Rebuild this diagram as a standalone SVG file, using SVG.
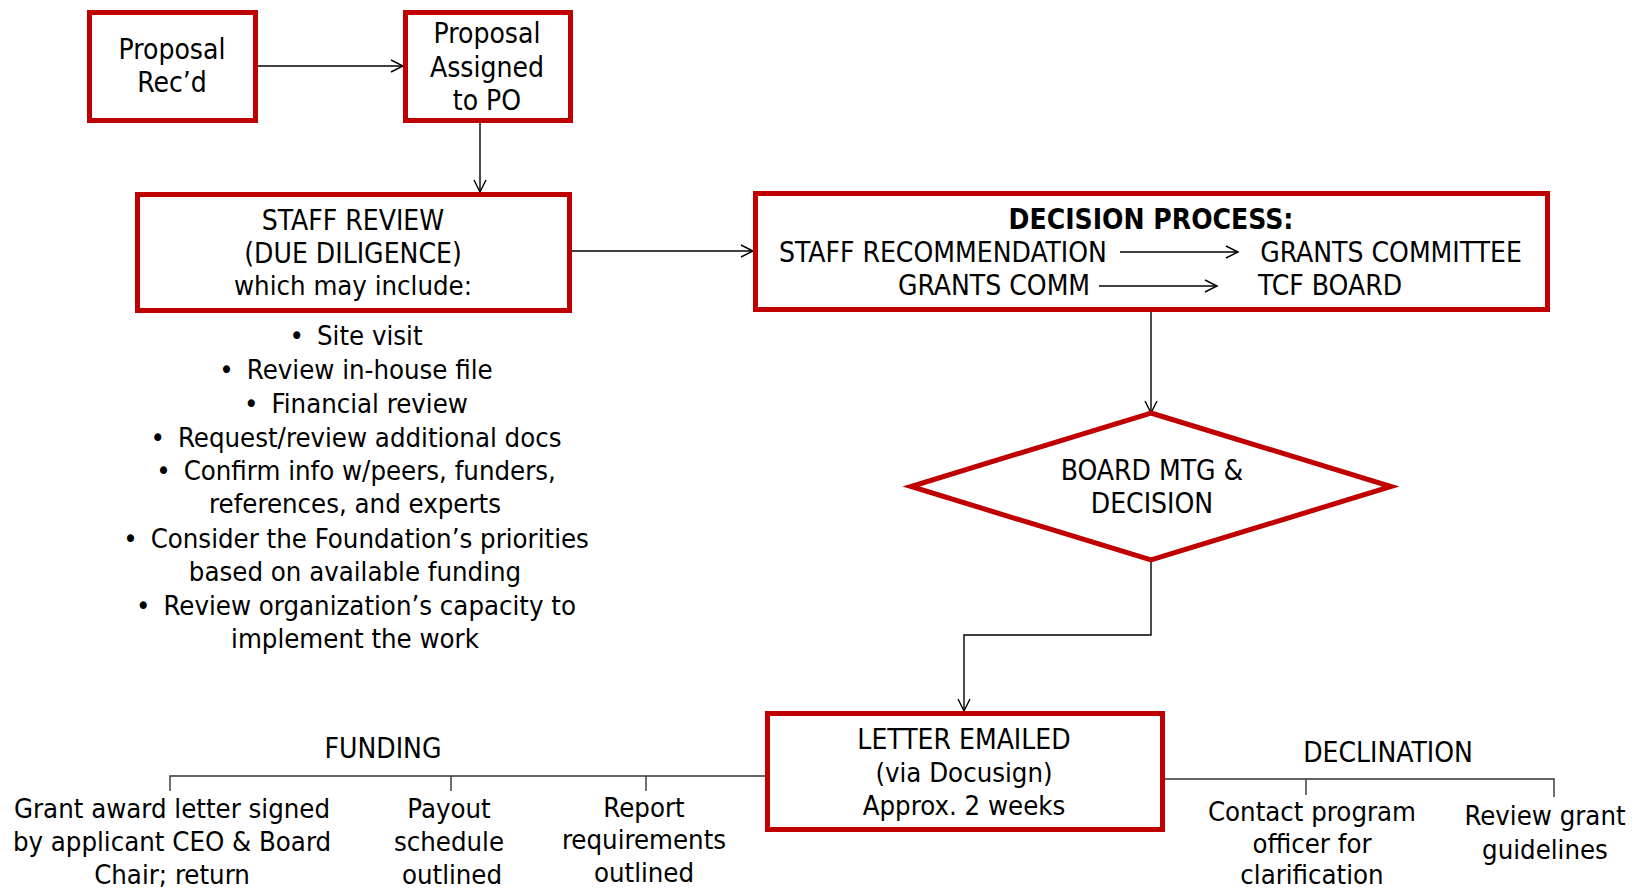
<svg xmlns="http://www.w3.org/2000/svg" width="1636" height="890" viewBox="0 0 1636 890">
<style>
text{font-family:"DejaVu Sans Condensed","DejaVu Sans",sans-serif;font-stretch:condensed;font-size:28px;fill:#000;text-anchor:middle}
.s{font-size:27.3px}
.b{font-weight:bold}
.box{fill:#fff;stroke:#C00000;stroke-width:5}
.c{fill:none;stroke:#000;stroke-width:1.4}
.t{fill:none;stroke:#333;stroke-width:1.4}
</style>
<defs>
<marker id="ah" markerUnits="userSpaceOnUse" markerWidth="16" markerHeight="16" refX="13" refY="7" orient="auto">
<path d="M1,1 L13,7 L1,13" fill="none" stroke="#000" stroke-width="1.4"/>
</marker>
</defs>
<rect width="1636" height="890" fill="#fff"/>
<g id="connectors">
<path class="c" d="M258,66 H403" marker-end="url(#ah)"/>
<path class="c" d="M480,123 V192" marker-end="url(#ah)"/>
<path class="c" d="M572,251 H753" marker-end="url(#ah)"/>
<path class="c" d="M1151,312 V413" marker-end="url(#ah)"/>
<path class="c" d="M1151,560 V635 H964 V711" marker-end="url(#ah)"/>
<path class="t" d="M765,776 H170 V791 M451,776 V791 M646,776 V791"/>
<path class="t" d="M1165,779 H1554 V797 M1306,779 V795"/>
</g>
<g id="proposal-recd">
<rect class="box" x="89.5" y="12.5" width="166" height="108"/>
<text x="172" y="59">Proposal</text>
<text x="172" y="92">Rec’d</text>
</g>
<g id="proposal-assigned">
<rect class="box" x="405.5" y="12.5" width="165" height="108"/>
<text x="487" y="43">Proposal</text>
<text x="487" y="77">Assigned</text>
<text x="487" y="110">to PO</text>
</g>
<g id="staff-review">
<rect class="box" x="137.5" y="194.5" width="432" height="116"/>
<text x="353" y="230">STAFF REVIEW</text>
<text x="353" y="263">(DUE DILIGENCE)</text>
<text class="s" x="353" y="295">which may include:</text>
</g>
<g id="staff-review-list" class="s">
<text class="s" x="356" y="345"><tspan>•</tspan><tspan dx="13">Site visit</tspan></text>
<text class="s" x="356" y="379"><tspan>•</tspan><tspan dx="13">Review in-house file</tspan></text>
<text class="s" x="356" y="413"><tspan>•</tspan><tspan dx="13">Financial review</tspan></text>
<text class="s" x="356" y="447"><tspan>•</tspan><tspan dx="13">Request/review additional docs</tspan></text>
<text class="s" x="356" y="480"><tspan>•</tspan><tspan dx="13">Confirm info w/peers, funders,</tspan></text>
<text class="s" x="355" y="513">references, and experts</text>
<text class="s" x="356" y="548"><tspan>•</tspan><tspan dx="13">Consider the Foundation’s priorities</tspan></text>
<text class="s" x="355" y="581">based on available funding</text>
<text class="s" x="356" y="615"><tspan>•</tspan><tspan dx="13">Review organization’s capacity to</tspan></text>
<text class="s" x="355" y="648">implement the work</text>
</g>
<g id="decision-process">
<rect class="box" x="755.5" y="193.5" width="792" height="116"/>
<text class="b" x="1151" y="229">DECISION PROCESS:</text>
<text x="943" y="262">STAFF RECOMMENDATION</text>
<path class="c" d="M1120,252 H1238" marker-end="url(#ah)"/>
<text x="1391" y="262">GRANTS COMMITTEE</text>
<text x="994" y="295">GRANTS COMM</text>
<path class="c" d="M1099,286 H1217" marker-end="url(#ah)"/>
<text x="1330" y="295">TCF BOARD</text>
</g>
<g id="board-decision">
<polygon class="box" points="1151,413 1391,486.5 1151,560 911,486.5"/>
<text x="1152" y="480">BOARD MTG &amp;</text>
<text x="1152" y="513">DECISION</text>
</g>
<g id="letter-emailed">
<rect class="box" x="767.5" y="713.5" width="395" height="116"/>
<text x="964" y="749">LETTER EMAILED</text>
<text class="s" x="964" y="782">(via Docusign)</text>
<text class="s" x="964" y="815">Approx. 2 weeks</text>
</g>
<g id="funding">
<text x="383" y="758">FUNDING</text>
<text class="s" x="172" y="818">Grant award letter signed</text>
<text class="s" x="172" y="851">by applicant CEO &amp; Board</text>
<text class="s" x="172" y="884">Chair; return</text>
<text class="s" x="449" y="818">Payout</text>
<text class="s" x="449" y="851">schedule</text>
<text class="s" x="452" y="884">outlined</text>
<text class="s" x="644" y="817">Report</text>
<text class="s" x="644" y="849">requirements</text>
<text class="s" x="644" y="882">outlined</text>
</g>
<g id="declination">
<text x="1388" y="762">DECLINATION</text>
<text class="s" x="1312" y="821">Contact program</text>
<text class="s" x="1312" y="853">officer for</text>
<text class="s" x="1312" y="884">clarification</text>
<text class="s" x="1545" y="825">Review grant</text>
<text class="s" x="1545" y="859">guidelines</text>
</g>
</svg>
